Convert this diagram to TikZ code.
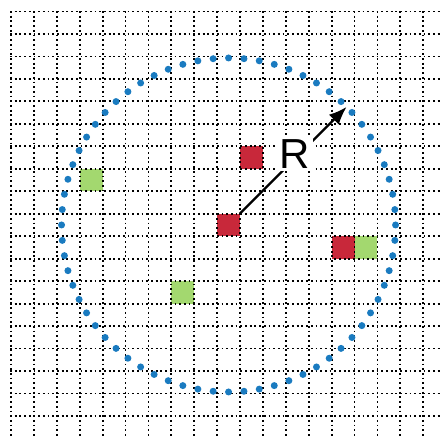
\documentclass[tikz,border=0pt]{standalone}
\usepackage{fontspec}
\newfontfamily\rfont{Liberation Sans}
\usetikzlibrary{calc,arrows.meta}
\definecolor{cellred}{HTML}{C8283A}
\definecolor{cellgreen}{HTML}{A3D86F}
\definecolor{dotblue}{HTML}{1A7BC0}
\tikzset{
  gridline/.style={black, line width=1.8pt, dash pattern=on 1.8pt off 2.9pt},
  cell/.style={minimum width=22.9pt, minimum height=22.47pt, inner sep=0pt, outer sep=0pt},
  redcell/.style={cell, fill=cellred},
  greencell/.style={cell, fill=cellgreen},
  ringdot/.style={fill=dotblue},
  radiusarrow/.style={black, line width=2.2pt, -{Latex[length=18pt,width=14pt]}},
  rlabel/.style={fill=white, inner sep=2.5pt, font=\rfont\fontsize{42}{42}\selectfont}
}
\newcommand{\cellpos}[2]{({11+22.9*(#1+0.5)},{11.5+22.47*(#2+0.5)})}
\begin{document}
\begin{tikzpicture}[x=1pt,y=-1pt]
\useasboundingbox (0,0) rectangle (441,437);
% cells
\node[redcell] (r1) at \cellpos{9}{9} {};
\node[redcell] (r2) at \cellpos{10}{6} {};
\node[redcell] (r3) at \cellpos{14}{10} {};
\node[greencell] (g1) at \cellpos{15}{10} {};
\node[greencell] (g2) at \cellpos{3}{7} {};
\node[greencell] (g3) at \cellpos{7}{12} {};
% grid
\foreach \k in {0,...,18}{
  \draw[gridline] ({11+22.9*\k},11) -- ({11+22.9*\k},437);
  \draw[gridline] (10,{11.5+22.47*\k}) -- (441,{11.5+22.47*\k});
}
% ring of dots
\foreach \i in {0,...,67}{
  \fill[ringdot] ($(r1.center)+({90+\i*5.294118}:167pt)$) circle (3.5pt);
}
% radius arrow
\coordinate (tip) at ($(r1.center)+(45:167pt)$);
\draw[radiusarrow] (r1) -- (tip);
\node[rlabel] (R) at (295,154) {R};
\end{tikzpicture}
\end{document}
